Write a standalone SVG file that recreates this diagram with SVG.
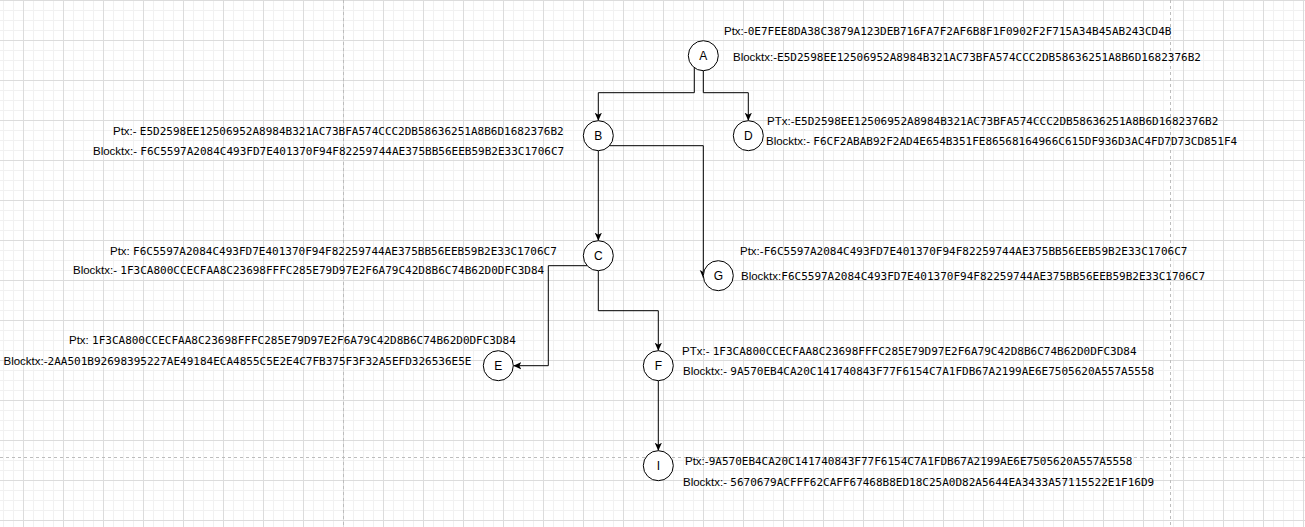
<svg xmlns="http://www.w3.org/2000/svg" width="1305" height="527" viewBox="0 0 1305 527">
<style>
.c{fill:#fff;stroke:#000;stroke-width:1}
.n{font-family:"Liberation Sans",Arial,sans-serif;font-size:12px;fill:#000;text-anchor:middle}
.t{font-family:"Liberation Sans",Arial,sans-serif;font-size:11.5px;fill:#000}
.h{font-family:"DejaVu Sans Mono","Liberation Mono",monospace;font-size:11px}
.e{fill:none;stroke:#000;stroke-width:1;marker-end:url(#arr)}
.pb{stroke:#bdbdbd;stroke-width:1;stroke-dasharray:3 3;fill:none}
</style>
<defs>
<pattern id="grid" patternUnits="userSpaceOnUse" x="23" y="0" width="40" height="40">
<path d="M10.5,0V40M20.5,0V40M30.5,0V40M0,10.5H40M0,20.5H40M0,30.5H40" stroke="#f1f1f1" stroke-width="1" fill="none"/>
<path d="M0.5,0V40M0,0.5H40" stroke="#dcdcdc" stroke-width="1" fill="none"/>
</pattern>
<marker id="arr" markerUnits="userSpaceOnUse" viewBox="0 0 10 10" markerWidth="8" markerHeight="8" refX="10" refY="5" orient="auto">
<path d="M0,0.5L10,5L0,9.5L2.5,5z" fill="#000"/>
</marker>
</defs>
<rect width="1305" height="527" fill="#fff"/>
<rect width="1305" height="527" fill="url(#grid)"/>
<path class="pb" d="M343.5,0V527M1170.5,0V527M0,457.5H1305"/>
<g id="connectors">
<path class="e" d="M694.3,67.7V92.7H598.3V120.7"/>
<path class="e" d="M703.3,70.7V92.7H748.3V120.7"/>
<path class="e" d="M598.3,150.7V240.7"/>
<path class="e" d="M609.5,145.7H703.3V278"/>
<path class="e" d="M587.1,265.7H548.3V365.7H513.3"/>
<path class="e" d="M598.3,270.7V310.7H658.3V350.7"/>
<path class="e" d="M658.3,380.7V450.7"/>
</g>
<g id="node-A">
<circle class="c" cx="703.3" cy="55.7" r="15"/>
<text class="n" x="703.3" y="60">A</text>
<text class="t" x="724" y="34.5">Ptx:-<tspan class="h">0E7FEE8DA38C3879A123DEB716FA7F2AF6B8F1F0902F2F715A34B45AB243CD4B</tspan></text>
<text class="t" x="733" y="60.5">Blocktx:-<tspan class="h">E5D2598EE12506952A8984B321AC73BFA574CCC2DB58636251A8B6D1682376B2</tspan></text>
</g>
<g id="node-B">
<circle class="c" cx="598.3" cy="135.7" r="15"/>
<text class="n" x="598.3" y="140">B</text>
<text class="t" x="113" y="135">Ptx:- <tspan class="h">E5D2598EE12506952A8984B321AC73BFA574CCC2DB58636251A8B6D1682376B2</tspan></text>
<text class="t" x="93" y="155">Blocktx:- <tspan class="h">F6C5597A2084C493FD7E401370F94F82259744AE375BB56EEB59B2E33C1706C7</tspan></text>
</g>
<g id="node-D">
<circle class="c" cx="748.3" cy="135.7" r="15"/>
<text class="n" x="748.3" y="140">D</text>
<text class="t" x="767" y="124.5">PTx:-<tspan class="h">E5D2598EE12506952A8984B321AC73BFA574CCC2DB58636251A8B6D1682376B2</tspan></text>
<text class="t" x="766" y="145">Blocktx:- <tspan class="h">F6CF2ABAB92F2AD4E654B351FE86568164966C615DF936D3AC4FD7D73CD851F4</tspan></text>
</g>
<g id="node-C">
<circle class="c" cx="598.3" cy="255.7" r="15"/>
<text class="n" x="598.3" y="260">C</text>
<text class="t" x="110" y="255">Ptx: <tspan class="h">F6C5597A2084C493FD7E401370F94F82259744AE375BB56EEB59B2E33C1706C7</tspan></text>
<text class="t" x="73" y="274">Blocktx:- <tspan class="h">1F3CA800CCECFAA8C23698FFFC285E79D97E2F6A79C42D8B6C74B62D0DFC3D84</tspan></text>
</g>
<g id="node-G">
<circle class="c" cx="718.3" cy="275.7" r="15"/>
<text class="n" x="718.3" y="280">G</text>
<text class="t" x="740" y="254.5">Ptx:-<tspan class="h">F6C5597A2084C493FD7E401370F94F82259744AE375BB56EEB59B2E33C1706C7</tspan></text>
<text class="t" x="741" y="279.5">Blocktx:<tspan class="h">F6C5597A2084C493FD7E401370F94F82259744AE375BB56EEB59B2E33C1706C7</tspan></text>
</g>
<g id="node-E">
<circle class="c" cx="498.3" cy="365.7" r="15"/>
<text class="n" x="498.3" y="370">E</text>
<text class="t" x="69" y="344">Ptx: <tspan class="h">1F3CA800CCECFAA8C23698FFFC285E79D97E2F6A79C42D8B6C74B62D0DFC3D84</tspan></text>
<text class="t" x="3.5" y="365">Blocktx:-<tspan class="h">2AA501B92698395227AE49184ECA4855C5E2E4C7FB375F3F32A5EFD326536E5E</tspan></text>
</g>
<g id="node-F">
<circle class="c" cx="658.3" cy="365.7" r="15"/>
<text class="n" x="658.3" y="370">F</text>
<text class="t" x="682" y="355">PTx:- <tspan class="h">1F3CA800CCECFAA8C23698FFFC285E79D97E2F6A79C42D8B6C74B62D0DFC3D84</tspan></text>
<text class="t" x="683" y="374.5">Blocktx:- <tspan class="h">9A570EB4CA20C141740843F77F6154C7A1FDB67A2199AE6E7505620A557A5558</tspan></text>
</g>
<g id="node-I">
<circle class="c" cx="658.3" cy="465.7" r="15"/>
<text class="n" x="658.3" y="470">I</text>
<text class="t" x="685" y="465">Ptx:-<tspan class="h">9A570EB4CA20C141740843F77F6154C7A1FDB67A2199AE6E7505620A557A5558</tspan></text>
<text class="t" x="683" y="485.5">Blocktx:- <tspan class="h">5670679ACFFF62CAFF67468B8ED18C25A0D82A5644EA3433A57115522E1F16D9</tspan></text>
</g>
</svg>
